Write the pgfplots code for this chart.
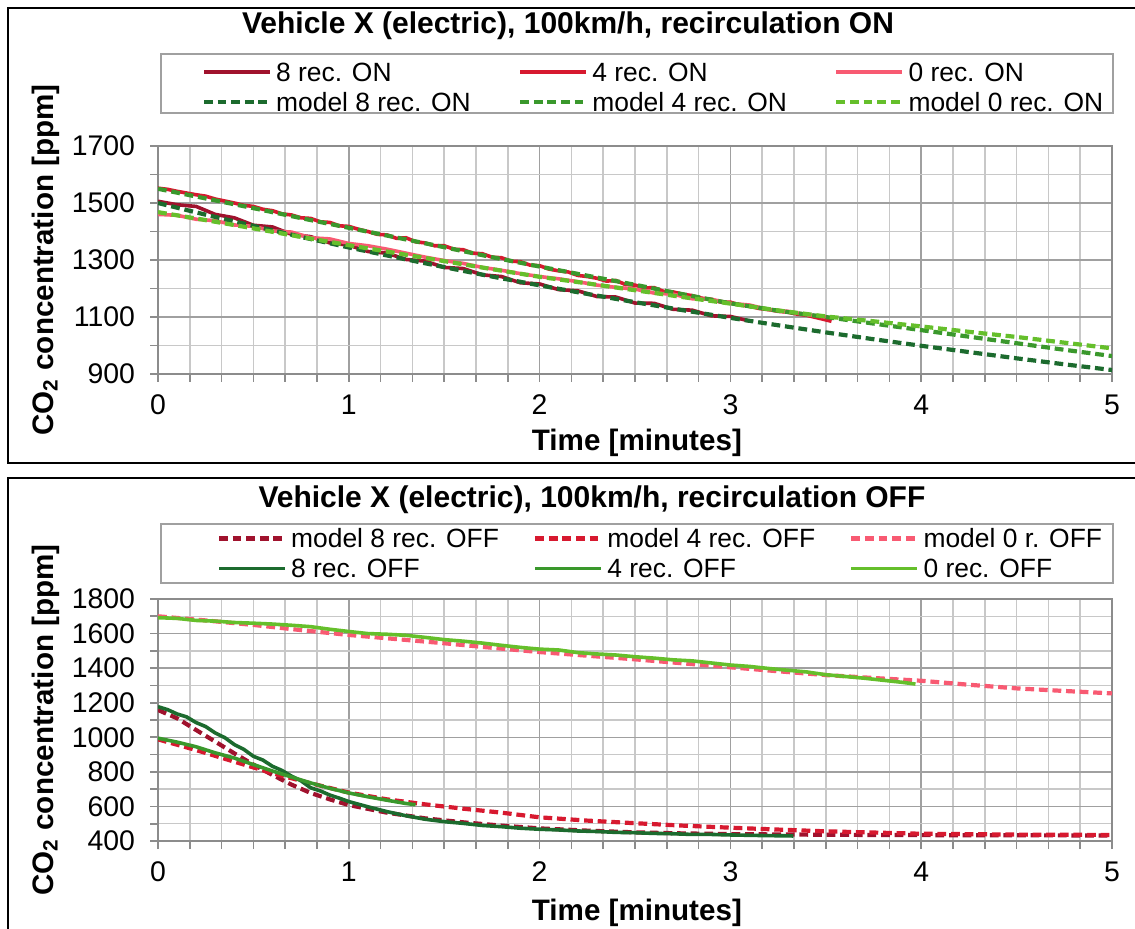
\documentclass[border=0pt]{standalone}
\usepackage{pgfplots}
\pgfplotsset{compat=1.18}
\usepackage{fontspec}
\setmainfont{Liberation Sans}

\definecolor{recEight}{HTML}{A0122D}
\definecolor{recFour}{HTML}{D7192F}
\definecolor{recZero}{HTML}{F85A72}
\definecolor{modEight}{HTML}{1C6B2E}
\definecolor{modFour}{HTML}{3A982C}
\definecolor{modZero}{HTML}{65BF2B}
\definecolor{gridmaj}{HTML}{A0A0A0}
\definecolor{gridmin}{HTML}{C8C8C8}
\definecolor{axisgray}{HTML}{8C8C8C}

\pgfplotsset{
  co2panel/.style={
    scale only axis, width=477pt, anchor=south west,
    xmin=0, xmax=5, xtick={0,1,2,3,4,5}, minor x tick num=5,
    minor y tick num=1,
    grid=both,
    major grid style={draw=gridmaj, line width=0.75pt},
    minor grid style={draw=gridmin, line width=0.75pt},
    axis line style={draw=axisgray, line width=0.8pt},
    tick align=outside, xtick pos=bottom, ytick pos=left,
    major tick length=4pt, minor tick length=4pt,
    tick style={draw=axisgray, line width=0.8pt},
    ticklabel style={font=\fontsize{14.2}{16}\selectfont},
    xticklabel shift=3pt, yticklabel shift=4pt,
    /pgf/number format/assume math mode=true,
    /pgf/number format/1000 sep={},
    label style={font=\bfseries\fontsize{14.8}{17}\selectfont},
    every axis title/.style={at={(0.5,1)}, anchor=center,
      font=\bfseries\fontsize{15}{17}\selectfont},
    legend columns=3,
    legend cell align=left,
    legend style={draw=none, fill=none, inner sep=0pt, outer sep=0pt,
      anchor=north west, column sep=0pt, row sep=0pt,
      font=\fontsize{13.2}{15}\selectfont,
      nodes={inner sep=0pt, text height=12pt, text depth=3pt}},
    legend image code/.code={\draw[#1] (0pt,0pt) -- (33pt,0pt);},
  },
  meas/.style={line width=1.8pt},
  modl/.style={line width=2.1pt, dash pattern=on 4.4pt off 2.4pt},
}
\newcommand{\legtext}[1]{\makebox[123pt][l]{\hspace{2pt}#1}}

\begin{document}
\begin{tikzpicture}
\useasboundingbox (0,0) rectangle (567.5pt,464pt);
% panel frames
\draw[line width=1.2pt] (4pt,232.5pt) rectangle (580pt,460pt);
\draw[line width=1.2pt] (4pt,-10pt) rectangle (580pt,225pt);
% legend boxes
\draw[draw=gridmaj, line width=0.6pt] (80.5pt,407.5pt) rectangle (556.5pt,437pt);
\draw[draw=gridmaj, line width=0.6pt] (80.5pt,172.5pt) rectangle (556.5pt,202pt);

% ---- recirculation ON
\begin{axis}[co2panel, at={(79pt,277pt)}, height=114pt,
  ymin=900, ymax=1700, ytick={900,1100,1300,1500,1700},
  title={Vehicle X (electric), 100km/h, recirculation ON},
  title style={at={(axis description cs:0.4298,1.504)}, yshift=2.5pt},
  xlabel={Time [minutes]},
  xlabel style={at={(axis description cs:0.502,-0.3026)}, anchor=center},
  ylabel={CO\textsubscript{2} concentration [ppm]},
  ylabel style={at={(axis description cs:-0.118,0.5)}, anchor=center},
  legend style={at={(0.0461,1.3904)}},
]
\addplot[meas, recEight] coordinates {
(0,1506) (0.1,1494) (0.2,1488) (0.3,1460) (0.4,1448) (0.5,1422) (0.6,1416)
(0.7,1390) (0.8,1382) (0.9,1360) (1.0,1352) (1.1,1330) (1.2,1324) (1.3,1302)
(1.4,1296) (1.5,1274) (1.6,1270) (1.7,1248) (1.8,1242) (1.9,1220) (2.0,1216)
(2.1,1196) (2.2,1192) (2.3,1172) (2.4,1170) (2.5,1149) (2.6,1148) (2.7,1127)
(2.8,1124) (2.9,1104) (3.0,1102) (3.1,1086)};
\addlegendentry{\legtext{8 rec. ON}}
\addplot[meas, recFour] coordinates {
(0,1552) (0.05,1548) (0.1,1541) (0.15,1535) (0.2,1529) (0.25,1524) (0.3,1514)
(0.35,1507) (0.4,1500) (0.45,1492) (0.5,1488) (0.55,1478) (0.6,1473) (0.65,1462)
(0.7,1458) (0.75,1448) (0.8,1446) (0.85,1434) (0.9,1432) (0.95,1420) (1.0,1418)
(1.05,1408) (1.1,1400) (1.15,1390) (1.2,1388) (1.25,1376) (1.3,1378) (1.35,1364)
(1.4,1360) (1.45,1350) (1.5,1350) (1.55,1338) (1.6,1336) (1.65,1324) (1.7,1322)
(1.75,1310) (1.8,1308) (1.85,1296) (1.9,1294) (1.95,1282) (2.0,1280) (2.05,1268)
(2.1,1262) (2.15,1258) (2.2,1246) (2.25,1242) (2.3,1236) (2.35,1226) (2.4,1228)
(2.45,1214) (2.5,1212) (2.55,1202) (2.6,1203) (2.65,1190) (2.7,1188) (2.75,1180)
(2.8,1175) (2.85,1166) (2.9,1162) (2.95,1152) (3.0,1152) (3.05,1142) (3.1,1138)
(3.15,1130) (3.2,1126) (3.25,1120) (3.3,1117) (3.35,1110) (3.4,1106) (3.45,1098)
(3.5,1090) (3.53,1085)};
\addlegendentry{\legtext{4 rec. ON}}
\addplot[meas, recZero] coordinates {
(0,1460) (0.1,1457) (0.2,1443) (0.3,1438) (0.4,1423) (0.5,1418) (0.6,1402)
(0.7,1398) (0.8,1378) (0.9,1374) (1.0,1358) (1.1,1350) (1.2,1338) (1.3,1324)
(1.4,1310) (1.5,1298) (1.6,1288) (1.7,1274) (1.8,1264) (1.9,1252) (2.0,1242)
(2.1,1234) (2.2,1224) (2.3,1212) (2.4,1204) (2.5,1198) (2.6,1184) (2.7,1180)
(2.8,1164) (2.9,1162) (3.0,1148) (3.1,1142) (3.2,1126) (3.3,1120) (3.4,1108)
(3.5,1100)};
\addlegendentry{\legtext{0 rec. ON}}
\addplot[modl, modEight] coordinates {
(0,1500) (0.25,1459) (0.5,1420) (0.75,1381) (1.0,1344) (1.25,1309) (1.5,1275)
(1.75,1242) (2.0,1211) (2.25,1181) (2.5,1152) (2.75,1124) (3.0,1097) (3.25,1071)
(3.5,1046) (3.75,1022) (4.0,999) (4.25,977) (4.5,955) (4.75,934) (5.0,914)};
\addlegendentry{\legtext{model 8 rec. ON}}
\addplot[modl, modFour] coordinates {
(0,1550) (0.25,1516) (0.5,1482) (0.75,1447) (1.0,1413) (1.25,1379) (1.5,1345)
(1.75,1310) (2.0,1277) (2.25,1245) (2.5,1213) (2.75,1180) (3.0,1148) (3.25,1122)
(3.5,1100) (3.75,1077) (4.0,1054) (4.25,1031) (4.5,1008) (4.75,985) (5.0,963)};
\addlegendentry{\legtext{model 4 rec. ON}}
\addplot[modl, modZero] coordinates {
(0,1468) (0.25,1440) (0.5,1411) (0.75,1381) (1.0,1352) (1.25,1324) (1.5,1296)
(1.75,1268) (2.0,1241) (2.25,1218) (2.5,1194) (2.75,1170) (3.0,1147) (3.25,1123)
(3.5,1102) (3.75,1085) (4.0,1067) (4.25,1048) (4.5,1030) (4.75,1010) (5.0,990)};
\addlegendentry{\legtext{model 0 rec. ON}}
\end{axis}

% ---- recirculation OFF
\begin{axis}[co2panel, at={(79pt,43.5pt)}, height=121pt,
  ymin=400, ymax=1800, ytick={400,600,800,1000,1200,1400,1600,1800},
  title={Vehicle X (electric), 100km/h, recirculation OFF},
  title style={at={(axis description cs:0.4549,1.409)}},
  xlabel={Time [minutes]},
  xlabel style={at={(axis description cs:0.502,-0.2975)}, anchor=center},
  ylabel={CO\textsubscript{2} concentration [ppm]},
  ylabel style={at={(axis description cs:-0.118,0.5)}, anchor=center},
  legend style={at={(0.0618,1.312)}},
]
\addplot[modl, recEight] coordinates {
(0,1158) (0.1,1110) (0.2,1042) (0.3,975) (0.4,907) (0.5,842) (0.6,782)
(0.7,726) (0.8,678) (0.9,641) (1.0,608) (1.2,564) (1.4,531) (1.6,508)
(1.8,489) (2.0,473) (2.25,460) (2.5,450) (2.75,444) (3.0,440) (3.5,436)
(4.0,434) (4.5,433) (5.0,432)};
\addlegendentry{\legtext{model 8 rec. OFF}}
\addplot[modl, recFour] coordinates {
(0,988) (0.2,926) (0.4,859) (0.6,792) (0.8,734) (1.0,680) (1.2,641)
(1.4,612) (1.6,587) (1.8,564) (2.0,537) (2.25,518) (2.5,503) (2.75,489)
(3.0,477) (3.3,464) (3.5,456) (4.0,442) (4.5,437) (5.0,435)};
\addlegendentry{\legtext{model 4 rec. OFF}}
\addplot[modl, recZero] coordinates {
(0,1700) (0.25,1676) (0.5,1650) (0.75,1620) (1.0,1592) (1.25,1568) (1.5,1544)
(1.75,1518) (2.0,1493) (2.25,1472) (2.5,1451) (2.75,1428) (3.0,1405) (3.25,1382)
(3.5,1360) (3.75,1343) (4.0,1327) (4.25,1304) (4.5,1283) (4.75,1268) (5.0,1254)};
\addlegendentry{\legtext{model 0 r. OFF}}
\addplot[meas, modEight] coordinates {
(0,1177) (0.05,1160) (0.1,1135) (0.15,1118) (0.2,1085) (0.25,1062) (0.3,1025)
(0.35,998) (0.4,958) (0.45,930) (0.5,890) (0.55,868) (0.6,832) (0.65,808)
(0.7,775) (0.75,748) (0.8,708) (0.85,690) (0.9,666) (0.95,648) (1.0,628)
(1.1,598) (1.2,570) (1.3,546) (1.4,526) (1.5,512) (1.6,502) (1.7,490)
(1.8,483) (1.9,474) (2.0,468) (2.1,464) (2.2,458) (2.3,455) (2.4,450)
(2.5,448) (2.6,444) (2.7,442) (2.8,438) (2.9,438) (3.0,435) (3.1,433)
(3.2,431) (3.3,430) (3.33,429)};
\addlegendentry{\legtext{8 rec. OFF}}
\addplot[meas, modFour] coordinates {
(0,995) (0.1,972) (0.2,945) (0.3,910) (0.4,880) (0.5,842) (0.6,805)
(0.7,770) (0.8,736) (0.9,705) (1.0,678) (1.1,656) (1.2,636) (1.3,617)
(1.35,610)};
\addlegendentry{\legtext{4 rec. OFF}}
\addplot[meas, modZero] coordinates {
(0,1692) (0.1,1688) (0.2,1676) (0.3,1672) (0.4,1664) (0.5,1660) (0.6,1655)
(0.7,1648) (0.8,1640) (0.9,1625) (1.0,1612) (1.1,1600) (1.2,1596) (1.3,1590)
(1.4,1578) (1.5,1565) (1.6,1556) (1.7,1545) (1.8,1532) (1.9,1520) (2.0,1510)
(2.1,1505) (2.2,1490) (2.3,1482) (2.4,1476) (2.5,1466) (2.6,1458) (2.7,1448)
(2.8,1442) (2.9,1430) (3.0,1418) (3.1,1410) (3.2,1398) (3.3,1388) (3.4,1378)
(3.5,1362) (3.6,1352) (3.7,1342) (3.8,1330) (3.9,1318) (3.97,1308)};
\addlegendentry{\legtext{0 rec. OFF}}
\end{axis}
\end{tikzpicture}
\end{document}
